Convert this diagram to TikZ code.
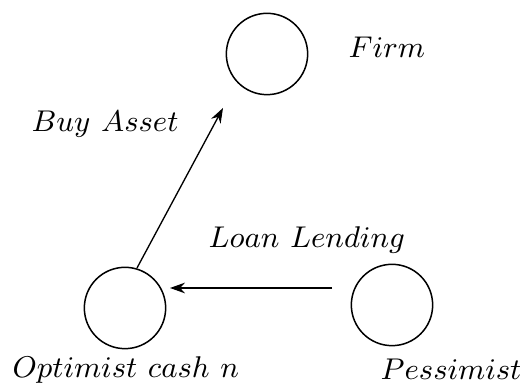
\documentclass[tikz,border=0pt]{standalone}
\usetikzlibrary{arrows.meta}
\begin{document}
\begin{tikzpicture}[x=0.3pt,y=-0.3pt,
  agent/.style={circle,draw,line width=0.45pt,minimum size=24.4pt,inner sep=0pt},
  lbl/.style={anchor=base west,inner sep=0pt,font=\fontsize{9.4}{11}\selectfont},
  flow/.style={-{Stealth[length=4.5pt,width=3.2pt]},line width=0.4pt}]
\useasboundingbox (0,0) rectangle (520,390);
\node[agent] (firm) at (267,54) {};
\node[agent] (opt) at (125,308) {};
\node[agent] (pes) at (392,305) {};
\coordinate (buyS) at (137,268);
\coordinate (buyE) at (223,108);
\coordinate (loanS) at (332,288);
\coordinate (loanE) at (170,288);
\draw[flow] (buyS) -- (buyE);
\draw[flow] (loanS) -- (loanE);
\node[lbl] (firmL) at (348,58) {$Firm$};
\node[lbl] (buyL) at (31,132) {$Buy\ Asset$};
\node[lbl] (loanL) at (208,248) {$Loan\ Lending$};
\node[lbl] (optL) at (12,378) {$Optimist\ cash\ n$};
\node[lbl] (pesL) at (380,380) {$Pessimist$};
\end{tikzpicture}
\end{document}
